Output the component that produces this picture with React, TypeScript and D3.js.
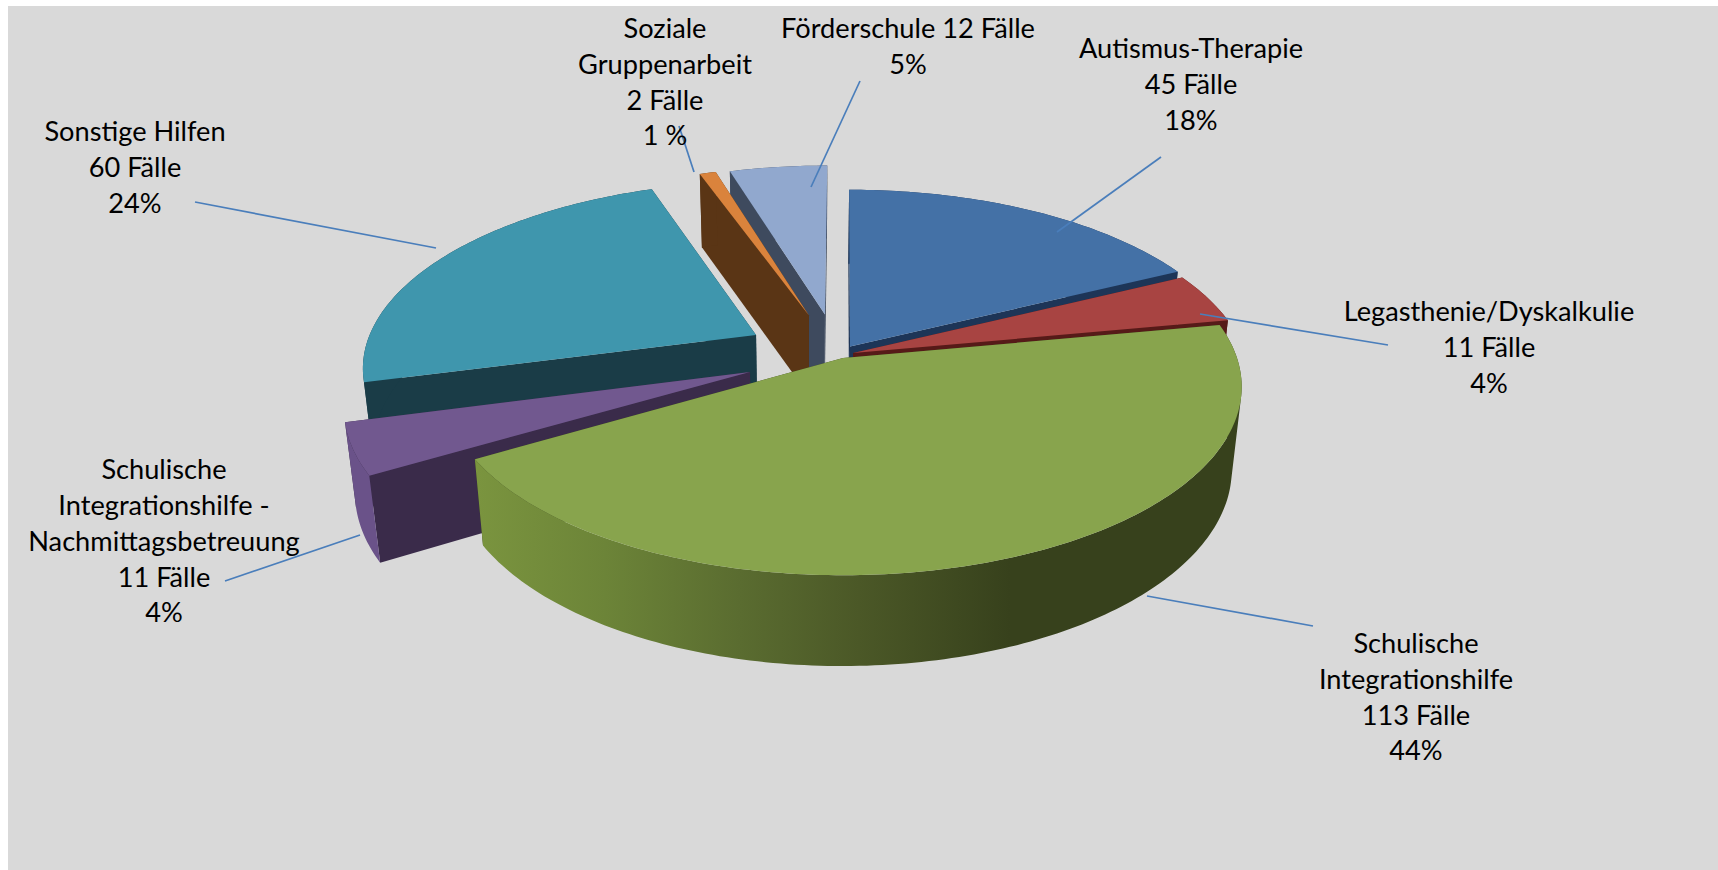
import React from "react";
import * as d3 from "d3";

// ---- data ----
const categories = [
  "Autismus-Therapie",
  "Legasthenie/Dyskalkulie",
  "Schulische Integrationshilfe",
  "Schulische Integrationshilfe - Nachmittagsbetreuung",
  "Sonstige Hilfen",
  "Soziale Gruppenarbeit",
  "Förderschule",
];
const cases = [45, 11, 113, 11, 60, 2, 12];
const labelLines = [
  ["Autismus-Therapie", "45 Fälle", "18%"],
  ["Legasthenie/Dyskalkulie", "11 Fälle", "4%"],
  ["Schulische", "Integrationshilfe", "113 Fälle", "44%"],
  ["Schulische", "Integrationshilfe -", "Nachmittagsbetreuung", "11 Fälle", "4%"],
  ["Sonstige Hilfen", "60 Fälle", "24%"],
  ["Soziale", "Gruppenarbeit", "2 Fälle", "1 %"],
  ["Förderschule 12 Fälle", "5%"],
];

// ---- layout and style ----
const W = 1718;
const H = 870;
const topColors = ["#4471A6", "#A84442", "#88A44D", "#71588F", "#3F96AD", "#DA833C", "#91A8CE"];
const wallColors = ["#1D3557", "#561A18", "#37411C", "#3A2B4A", "#1A3C47", "#5A3515", "#3E4A5E"];
const outerColors = ["#1D3557", "#561A18", "url(#greenWall)", "#6A5289", "#1A3C47", "#5A3515", "#3E4A5E"];
// slice displacement in the pie's plane (unit: radius)
const offsets: [number, number][] = [
  [0.018, -0.0634],
  [0.0256, -0.027],
  [0, 0],
  [-0.2333, 0.0752],
  [-0.225, -0.127],
  [-0.0897, -0.24],
  [-0.0475, -0.245],
];
const drawOrder = [4, 6, 5, 0, 1, 3, 2];
const labelCenter: [number, number][] = [
  [1191, 84],
  [1489, 347],
  [1416, 697],
  [164, 541],
  [135, 167],
  [665, 82],
  [908, 46.5],
];
const leaders: [number, number, number, number][] = [
  [1161, 157, 1057, 232],
  [1388, 345, 1200, 314],
  [1313, 626, 1147, 596],
  [225, 581, 360, 535],
  [195, 202, 436, 248],
  [679, 126, 694, 172],
  [860, 81, 811, 187],
];
const LINE_H = 35.8;
const FONT = 27.2;

// perspective projection of the pie
const CX = 843, CY = 358, RX = 394, RY = 184, P = 0.153, Q = 0.023, DEPTH = 84, XV = 810;
function project(u: number, v: number, h: number): [number, number] {
  const w0 = 1 - P * v;
  const xTop = CX + (RX * u) / w0;
  const x = XV + (xTop - XV) * (w0 / (w0 + Q * h));
  const y = CY + (RY * v + DEPTH * h) / (w0 + Q * h);
  return [x, y];
}

const line = d3.line<[number, number]>().curve(d3.curveLinear);
const pieGen = d3.pie<number>().sort(null).startAngle(0).endAngle(2 * Math.PI);

export default function App() {
  const arcs = pieGen(cases);
  const slices = arcs.map((a, i) => {
    const [ox, oy] = offsets[i];
    const steps = Math.max(2, Math.ceil(((a.endAngle - a.startAngle) * 180) / Math.PI));
    const angles = d3.range(steps + 1).map((k) => a.startAngle + ((a.endAngle - a.startAngle) * k) / steps);
    const rim = angles.map((t) => [ox + Math.sin(t), oy - Math.cos(t)] as [number, number]);
    const at = (p: [number, number], h: number) => project(p[0], p[1], h);
    const apex: [number, number] = [ox, oy];
    const first = rim[0];
    const last = rim[rim.length - 1];
    const topPath = line([at(apex, 0), ...rim.map((p) => at(p, 0))]) + "Z";
    const startWall = line([at(apex, 0), at(first, 0), at(first, 1), at(apex, 1)]) + "Z";
    const endWall = line([at(apex, 0), at(last, 0), at(last, 1), at(apex, 1)]) + "Z";
    // the rim wall folds over at the silhouette: every facet gets the same winding,
    // so that front and back facets do not cancel each other out
    const outerWall = d3
      .pairs(rim)
      .map(([p, q]) => {
        const quad = [at(p, 0), at(q, 0), at(q, 1), at(p, 1)] as [number, number][];
        return line(d3.polygonArea(quad) < 0 ? quad.reverse() : quad) + "Z";
      })
      .join("");
    return { i, topPath, startWall, endWall, outerWall };
  });

  return (
    <svg
      width={W}
      height={H}
      viewBox={`0 0 ${W} ${H}`}
      style={{ position: "fixed", left: 0, top: 0, display: "block" }}
      fontFamily="Lato, 'Open Sans', sans-serif"
    >
      <defs>
        <linearGradient id="greenWall" gradientUnits="userSpaceOnUse" x1={470} y1={0} x2={1010} y2={0}>
          <stop offset="0" stopColor="#7B953F" />
          <stop offset="0.25" stopColor="#6C8438" />
          <stop offset="0.5" stopColor="#5A6C30" />
          <stop offset="0.72" stopColor="#4B5827" />
          <stop offset="1" stopColor="#37411C" />
        </linearGradient>
      </defs>
      <rect x={8} y={6} width={W - 8} height={H - 6} fill="#D9D9D9" />
      {drawOrder.map((idx) => {
        const s = slices[idx];
        return (
          <g key={categories[idx]}>
            <path d={s.endWall} fill={wallColors[idx]} />
            <path d={s.startWall} fill={wallColors[idx]} />
            <path d={s.outerWall} fill={outerColors[idx]} />
            <path d={s.topPath} fill={topColors[idx]} />
          </g>
        );
      })}
      {leaders.map((l, i) => (
        <line key={i} x1={l[0]} y1={l[1]} x2={l[2]} y2={l[3]} stroke="#4A7EBB" strokeWidth={1.7} />
      ))}
      {labelLines.map((lines, i) => (
        <text key={i} textAnchor="middle" fontSize={FONT} fill="#000">
          {lines.map((t, k) => (
            <tspan
              key={k}
              x={labelCenter[i][0]}
              y={labelCenter[i][1] + (k - (lines.length - 1) / 2) * LINE_H + FONT * 0.36}
            >
              {t}
            </tspan>
          ))}
        </text>
      ))}
    </svg>
  );
}
